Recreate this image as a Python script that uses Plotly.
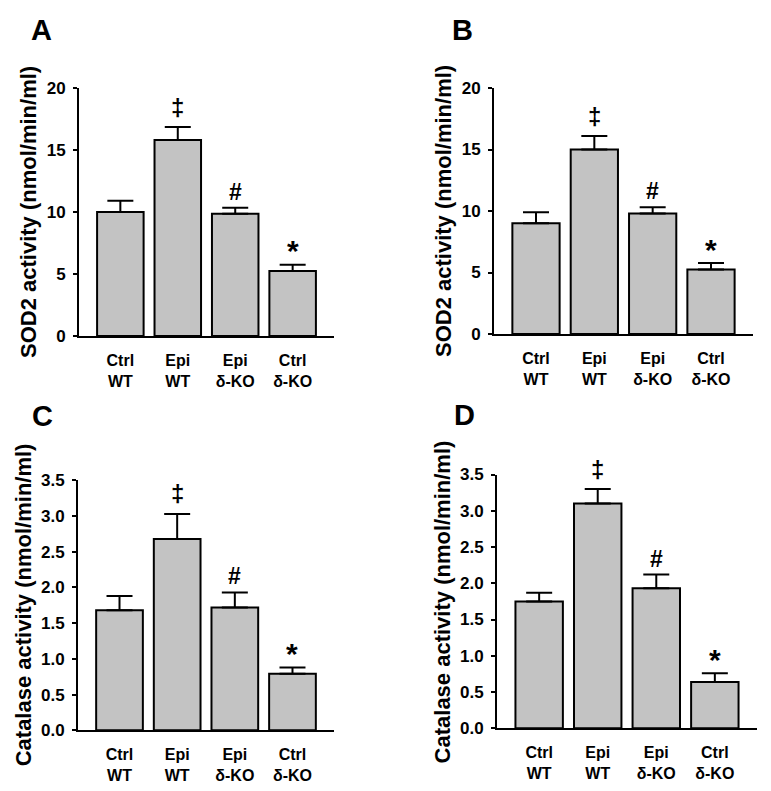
import plotly.graph_objects as go

categories = ["Ctrl<br>WT", "Epi<br>WT", "Epi<br>δ-KO", "Ctrl<br>δ-KO"]
markers = ["", "‡", "#", "*"]

sod2_a = [10.0, 15.8, 9.85, 5.25]
sod2_a_err = [0.9, 1.05, 0.5, 0.5]
sod2_b = [9.0, 15.0, 9.8, 5.25]
sod2_b_err = [0.9, 1.1, 0.5, 0.52]
cat_c = [1.68, 2.68, 1.72, 0.79]
cat_c_err = [0.2, 0.35, 0.21, 0.09]
cat_d = [1.75, 3.10, 1.93, 0.64]
cat_d_err = [0.12, 0.2, 0.19, 0.12]

sod2_ticks = [0, 5, 10, 15, 20]
cat_ticks = [0.0, 0.5, 1.0, 1.5, 2.0, 2.5, 3.0, 3.5]

W, H = 771, 791
FONT = "Liberation Sans, Arial, sans-serif"

# marker styling: font size and vertical offset (px) of glyph centre above error cap
marker_style = {"‡": (24, 20), "#": (23, 16), "*": (30, 14)}

panels = [
    dict(label="A", vals=sod2_a, errs=sod2_a_err, ticks=sod2_ticks, fmt="%d", rng=[0, 20],
         title="SOD2 activity (nmol/min/ml)",
         px=(79, 334), py=(81, 335), title_x=28, label_xy=(41, 22)),
    dict(label="B", vals=sod2_b, errs=sod2_b_err, ticks=sod2_ticks, fmt="%d", rng=[0, 20],
         title="SOD2 activity (nmol/min/ml)",
         px=(494, 753), py=(81, 333), title_x=443, label_xy=(462, 22)),
    dict(label="C", vals=cat_c, errs=cat_c_err, ticks=cat_ticks, fmt="%.1f", rng=[0, 3.5],
         title="Catalase activity (nmol/min/ml)",
         px=(78, 334), py=(483, 739), title_x=23, label_xy=(42, 417)),
    dict(label="D", vals=cat_d, errs=cat_d_err, ticks=cat_ticks, fmt="%.1f", rng=[0, 3.5],
         title="Catalase activity (nmol/min/ml)",
         px=(497, 757), py=(477, 737), title_x=442, label_xy=(464, 416)),
]

fig = go.Figure()
annotations = []
layout = {}
for i, p in enumerate(panels):
    n = "" if i == 0 else str(i + 1)
    xa, ya = "x" + n, "y" + n
    fig.add_trace(go.Bar(
        x=list(range(len(categories))), y=p["vals"], xaxis=xa, yaxis=ya,
        width=0.81,
        marker=dict(color="#c3c3c3", line=dict(color="black", width=2)),
        error_y=dict(type="data", array=p["errs"], symmetric=False,
                     arrayminus=[0] * len(p["vals"]),
                     color="black", thickness=2, width=13),
        showlegend=False, hoverinfo="skip",
    ))
    x0, x1 = p["px"]
    y0, y1 = p["py"]
    layout["xaxis" + n] = dict(
        domain=[x0 / W, x1 / W], anchor=ya, range=[-0.72, 3.72],
        tickmode="array", tickvals=list(range(len(categories))), ticktext=categories,
        ticks="", showline=True, linecolor="black", linewidth=2, showgrid=False,
        zeroline=False, tickfont=dict(family=FONT, size=16, color="black", weight="bold"),
        ticklabelstandoff=9, fixedrange=True,
    )
    layout["yaxis" + n] = dict(
        domain=[1 - y1 / H, 1 - y0 / H], anchor=xa, range=p["rng"],
        tickmode="array", tickvals=p["ticks"],
        ticktext=[p["fmt"] % t for t in p["ticks"]],
        ticks="outside", ticklen=4, tickwidth=2, tickcolor="black",
        showline=True, linecolor="black", linewidth=2, showgrid=False, zeroline=False,
        tickfont=dict(family=FONT, size=17, color="black", weight="bold"),
        ticklabelstandoff=4, fixedrange=True,
    )
    annotations.append(dict(
        text="<b>" + p["title"] + "</b>", textangle=-90, xref="paper", yref="paper",
        x=p["title_x"] / W, y=1 - (y0 + y1) / 2 / H, xanchor="center", yanchor="middle",
        showarrow=False, font=dict(family=FONT, size=22, color="black"),
    ))
    lx, ly = p["label_xy"]
    annotations.append(dict(
        text="<b>" + p["label"] + "</b>", xref="paper", yref="paper",
        x=lx / W, y=1 - ly / H, xanchor="center", yanchor="middle",
        showarrow=False, font=dict(family=FONT, size=29, color="black"),
    ))
    for j, m in enumerate(markers):
        if not m:
            continue
        size, shift = marker_style[m]
        annotations.append(dict(
            text="<b>" + m + "</b>", xref=xa, yref=ya,
            x=j, y=p["vals"][j] + p["errs"][j], xanchor="center", yanchor="middle",
            yshift=shift, showarrow=False, font=dict(family=FONT, size=size, color="black"),
        ))

fig.update_layout(
    width=W, height=H, margin=dict(l=0, r=0, t=0, b=0),
    paper_bgcolor="white", plot_bgcolor="white",
    annotations=annotations, **layout,
)
fig.write_html("out.html", config={"displayModeBar": False},
               post_script="document.body.style.margin='0';document.body.style.padding='0';")
